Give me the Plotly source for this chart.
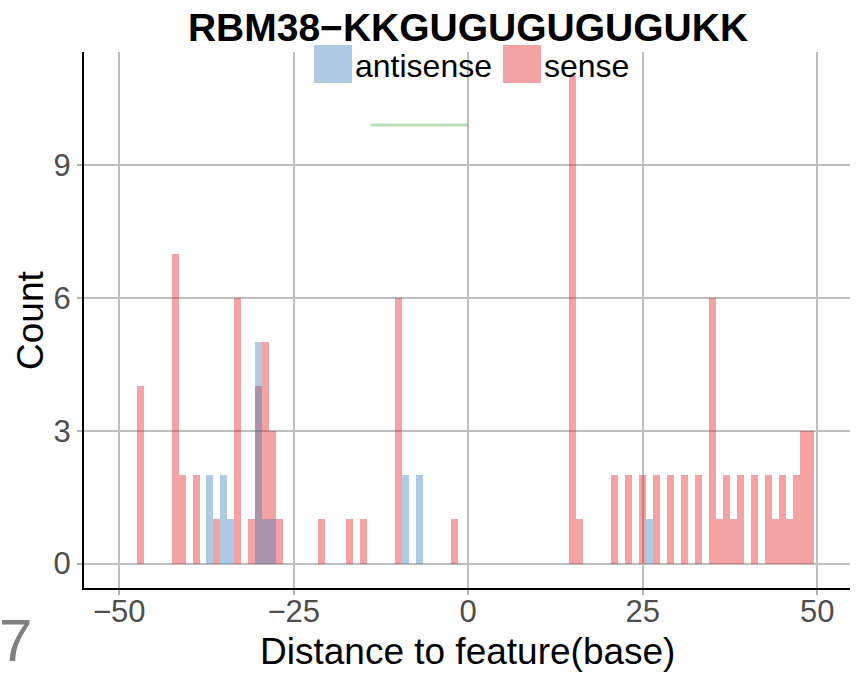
import plotly.graph_objects as go

# histogram counts per 1-base bin (bin centre -> count)
sense_pos = [-47, -42, -41, -39, -36, -33, -31, -30, -29, -28, -27, -21, -17, -15, -10, -2,
             15, 16, 21, 23, 25, 27, 29, 31, 33, 35, 36, 37, 38, 39, 41, 43, 44, 45, 46, 47, 48, 49]
sense_cnt = [4, 7, 2, 2, 1, 6, 1, 4, 5, 3, 1, 1, 1, 1, 6, 1,
             11, 1, 2, 2, 2, 2, 2, 2, 2, 6, 1, 2, 1, 2, 2, 2, 1, 2, 1, 2, 3, 3]

antisense_pos = [-37, -35, -34, -30, -29, -28, -9, -7, 26]
antisense_cnt = [2, 2, 1, 5, 1, 1, 2, 2, 1]

motif_x = [-14, 0]
motif_y = [9.9, 9.9]

x_ticks = [-50, -25, 0, 25, 50]
x_labels = ["\u221250", "\u221225", "0", "25", "50"]
y_ticks = [0, 3, 6, 9]

RED = "rgba(228,26,28,0.4)"
BLUE = "rgba(55,126,184,0.4)"
GREEN = "rgba(77,175,74,0.4)"
FONT = "Liberation Sans, Arial, sans-serif"

fig = go.Figure()
fig.add_trace(go.Bar(x=sense_pos, y=sense_cnt, width=1, name="sense",
                     marker=dict(color=RED, line=dict(width=0))))
fig.add_trace(go.Bar(x=antisense_pos, y=antisense_cnt, width=1, name="antisense",
                     marker=dict(color=BLUE, line=dict(width=0))))
fig.add_trace(go.Scatter(x=motif_x, y=motif_y, mode="lines",
                         line=dict(color=GREEN, width=3), showlegend=False))

W, H = 864, 676
L, R, T, B = 84, 14, 52, 88


def px(x):
    return (x - L) / (W - L - R)


def py(y):
    return (H - B - y) / (H - T - B)


# legend keys drawn by hand so they are large squares like the original
shapes = [
    dict(type="rect", xref="paper", yref="paper", x0=px(314), x1=px(352), y0=py(83), y1=py(45),
         fillcolor=BLUE, line=dict(width=0), layer="above"),
    dict(type="rect", xref="paper", yref="paper", x0=px(503), x1=px(541), y0=py(83), y1=py(45),
         fillcolor=RED, line=dict(width=0), layer="above"),
]


def label(text, x, y, size, color="black", xanchor="left", angle=0):
    return dict(text=text, xref="paper", yref="paper", x=px(x), y=py(y), xanchor=xanchor,
                yanchor="middle", showarrow=False, textangle=angle,
                font=dict(size=size, color=color, family=FONT))


annotations = [
    label("antisense", 353, 66, 32),
    label("sense", 542, 66, 32),
    label("7", -3, 640, 60, color="#808080"),
    label("Distance to feature(base)", 468, 651, 37, xanchor="center"),
    label("Count", 30, 320, 37, xanchor="center", angle=-90),
]

fig.update_layout(
    width=W, height=H,
    margin=dict(l=L, r=R, t=T, b=B, autoexpand=False),
    paper_bgcolor="white", plot_bgcolor="white",
    barmode="overlay", bargap=0,
    showlegend=False,
    font=dict(family=FONT),
    title=dict(text="<b>RBM38\u2212KKGUGUGUGUGUKK</b>", xref="paper", x=px(468), xanchor="center",
               y=1 - 27 / H, yanchor="middle", font=dict(size=39, color="black", family=FONT)),
    shapes=shapes,
    annotations=annotations,
    xaxis=dict(range=[-55.05, 54.7], tickvals=x_ticks, ticktext=x_labels, automargin=False,
               showgrid=True, gridcolor="#bebebe", gridwidth=2, zeroline=False,
               showline=True, linecolor="black", linewidth=2,
               ticks="outside", ticklen=5, tickcolor="#b3b3b3", tickwidth=2,
               ticklabelstandoff=-10,
               tickfont=dict(size=31, color="#4d4d4d")),
    yaxis=dict(range=[-0.55, 11.55], tickvals=y_ticks, automargin=False,
               showgrid=True, gridcolor="#bebebe", gridwidth=2, zeroline=False,
               showline=True, linecolor="black", linewidth=2,
               ticks="outside", ticklen=5, tickcolor="#b3b3b3", tickwidth=2,
               tickfont=dict(size=31, color="#4d4d4d")),
)

# drop the browser's default page margin so the figure sits at the top-left corner
fig.write_html("out.html", config={"displayModeBar": False},
               post_script="document.body.style.margin='0';")
